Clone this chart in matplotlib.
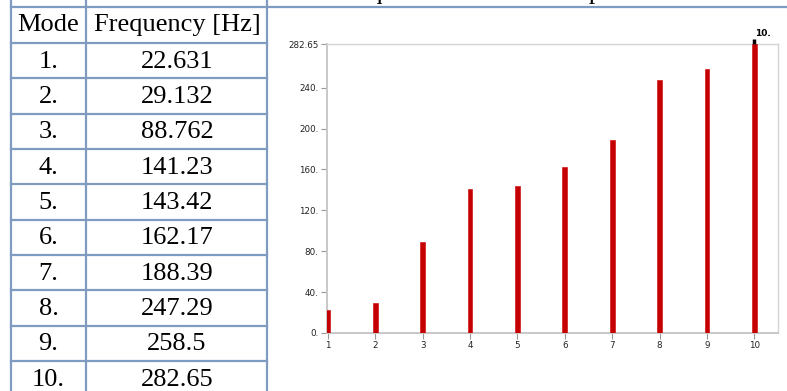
import matplotlib
matplotlib.use("Agg")
import matplotlib.pyplot as plt

# data
modes = [1, 2, 3, 4, 5, 6, 7, 8, 9, 10]
mode_labels = ["1.", "2.", "3.", "4.", "5.", "6.", "7.", "8.", "9.", "10."]
freqs = [22.631, 29.132, 88.762, 141.23, 143.42, 162.17, 188.39, 247.29, 258.5, 282.65]
freq_labels = ["22.631", "29.132", "88.762", "141.23", "143.42",
               "162.17", "188.39", "247.29", "258.5", "282.65"]
yticks = [0, 40, 80, 120, 160, 200, 240, 282.65]
ytick_labels = ["0.", "40.", "80.", "120.", "160.", "200.", "240.", "282.65"]

W, H = 787, 391
fig = plt.figure(figsize=(W / 100, H / 100), dpi=100)

# overlay in pixel coordinates for the table
tab = fig.add_axes([0, 0, 1, 1])
tab.set_xlim(0, W)
tab.set_ylim(H, 0)
tab.axis("off")

border = "#7f9bc0"
serif = "Liberation Serif"

# caption, cut off at the top of the page (only the bottoms of the glyphs show)
tab.text(75, -1, "Table 3. First ten natural frequencies and their representation",
         fontsize=19, family=serif, ha="left", va="baseline", color="black")

row_y = [7, 43, 78, 114, 149, 184, 220, 255, 290, 326, 361, 396]
tab.plot([11, W], [row_y[0], row_y[0]], color=border, lw=1.6)
for y in row_y[1:]:
    tab.plot([11, 267], [y, y], color=border, lw=1.6)
for x in [11, 86, 267]:
    tab.plot([x, x], [0, H], color=border, lw=1.6)

tab.text(48.5, 25, "Mode", fontsize=19, family=serif, ha="center", va="center")
tab.text(177, 25, "Frequency [Hz]", fontsize=19, family=serif, ha="center", va="center")
for i in range(len(modes)):
    yc = (row_y[i + 1] + row_y[i + 2]) / 2 + 1
    tab.text(48.5, yc, mode_labels[i], fontsize=19, family=serif, ha="center", va="center")
    tab.text(177, yc, freq_labels[i], fontsize=19, family=serif, ha="center", va="center")

# bar chart
ax = fig.add_axes([327 / W, (H - 333) / H, (778 - 327) / W, (333 - 44) / H])
ax.bar(modes, freqs, width=0.1, color="#c40000", edgecolor="#d21a1a", linewidth=0.5, zorder=3)
ax.set_xlim(0.98, 10.5)
ax.set_ylim(0, 282.65)
ax.vlines(10, 282.65, 288, color="black", lw=2.5, clip_on=False, zorder=4)
ax.text(10.02, 289, "10.", fontsize=6.5, fontweight="bold", ha="left", va="bottom")

for side in ["left", "bottom"]:
    ax.spines[side].set_color("#c8c8c8")
    ax.spines[side].set_linewidth(1.4)
for side in ["top", "right"]:
    ax.spines[side].set_color("#d4d4d4")
    ax.spines[side].set_linewidth(1.0)

ax.set_yticks(yticks)
ax.set_yticklabels(ytick_labels)
ax.set_xticks(modes)
ax.tick_params(axis="both", colors="#999999", labelcolor="#222222",
               labelsize=6.3, length=4, width=0.8, direction="out", pad=2)

fig.savefig("out.png", dpi=100)
